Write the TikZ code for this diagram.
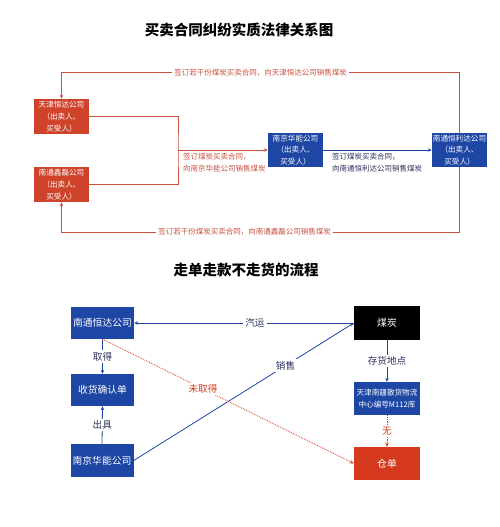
\documentclass[tikz,border=0pt]{standalone}
\usepackage{fontspec}
\setmainfont{Noto Sans CJK SC}
\usetikzlibrary{arrows.meta}

\definecolor{boxred}{HTML}{D0432B}
\definecolor{linered}{HTML}{C9503F}
\definecolor{boxblue}{HTML}{1E46A5}
\definecolor{cangred}{HTML}{D63A1E}
\definecolor{labelnavy}{HTML}{2B2F5C}

\tikzset{
  bigtitle/.style={font=\fontsize{14.5}{16}\selectfont\bfseries},
  redbox/.style={fill=boxred,text=white,minimum width=55pt,minimum height=35pt,
    align=center,inner sep=0pt,font=\fontsize{7.6}{11.7}\selectfont},
  bluebox/.style={redbox,fill=boxblue},
  flowbox/.style={fill=boxblue,text=white,minimum width=63pt,minimum height=32pt,
    align=center,inner sep=0pt,font=\fontsize{9.8}{12}\selectfont},
  redline/.style={draw=linered,line width=0.8pt},
  blueline/.style={draw=boxblue,line width=0.8pt},
  redtext/.style={text=linered,font=\fontsize{7.5}{12.2}\selectfont,align=left},
  bluetext/.style={text=labelnavy,font=\fontsize{7.5}{12.2}\selectfont,align=left},
  linelabel/.style={fill=white,inner sep=2pt,text=labelnavy,font=\fontsize{9.6}{11}\selectfont},
  misslabel/.style={linelabel,text=cangred},
  missline/.style={draw=cangred,line width=0.8pt,densely dotted}
}

\begin{document}
\begin{tikzpicture}[x=1pt,y=-1pt,>={Stealth[length=4pt,width=3.5pt]}]
  \useasboundingbox (0,0) rectangle (500,527);
  % upper picture
  \node[bigtitle] (title1) at (239,30) {买卖合同纠纷实质法律关系图};
  \node[redbox] (tjhd) at (61.5,116.5) {天津恒达公司\\（出卖人、\\买受人）};
  \node[redbox] (ntxl) at (61.5,184.5) {南通鑫磊公司\\（出卖人、\\买受人）};
  \node[bluebox,minimum height=34pt] (njhn) at (295.5,150) {南京华能公司\\（出卖人、\\买受人）};
  \node[bluebox,minimum height=34pt] (nthld) at (459.5,150) {南通恒利达公司\\（出卖人、\\买受人）};
  \coordinate (join) at (178,150);
  \draw[redline,->] (nthld.north) -- ++(0,-60) -| node[pos=0.25,fill=white,redtext,inner sep=2pt]
    {签订若干份煤炭买卖合同，向天津恒达公司销售煤炭} (tjhd.north);
  \draw[redline,->] (nthld.south) -- ++(0,65) -| node[pos=0.27,fill=white,redtext,inner sep=2pt]
    {签订若干份煤炭买卖合同，向南通鑫磊公司销售煤炭} (ntxl.south);
  \draw[redline] (tjhd.east) -| (join) |- (ntxl.east);
  \draw[redline,->] (join) -- (njhn.west);
  \draw[blueline,->] (njhn.east) -- (nthld.west);
  \node[redtext,anchor=north west,inner sep=0pt] (lbl1) at (183,153) {签订煤炭买卖合同，\\向南京华能公司销售煤炭};
  \node[bluetext,anchor=north west,inner sep=0pt] (lbl2) at (332,153) {签订煤炭买卖合同，\\向南通恒利达公司销售煤炭};
  % lower picture
  \node[bigtitle] (title2) at (246,270) {走单走款不走货的流程};
  \node[flowbox] (nthd) at (102.5,323) {南通恒达公司};
  \node[flowbox] (shqr) at (102.5,390) {收货确认单};
  \node[flowbox,minimum height=33pt] (njhn2) at (102,460.5) {南京华能公司};
  \node[flowbox,fill=black,minimum width=66pt,minimum height=34pt] (coal) at (387,323) {煤炭};
  \node[flowbox,minimum width=66pt,minimum height=33pt,font=\fontsize{7.6}{11.7}\selectfont] (depot) at (387,398.5) {天津南疆散货物流\\中心编号M112库};
  \node[flowbox,fill=cangred,minimum width=66pt,minimum height=33pt] (cangdan) at (387,463.5) {仓单};
  \draw[blueline,->] (coal.west) -- node[pos=0.45,linelabel] {汽运} (nthd.east);
  \draw[blueline,->] (nthd.south) -- node[linelabel] {取得} (shqr.north);
  \draw[blueline,->] (njhn2.north) -- node[linelabel] {出具} (shqr.south);
  \draw[blueline,->] (njhn2.east) -- node[pos=0.69,linelabel] {销售} (coal.west);
  \draw[missline,->] (nthd.south) -- node[pos=0.4,misslabel] {未取得} (cangdan.west);
  \draw[blueline,->] (coal.south) -- node[linelabel] {存货地点} (depot.north);
  \draw[missline,->] (depot.south) -- node[misslabel] {无} (cangdan.north);
\end{tikzpicture}
\end{document}
